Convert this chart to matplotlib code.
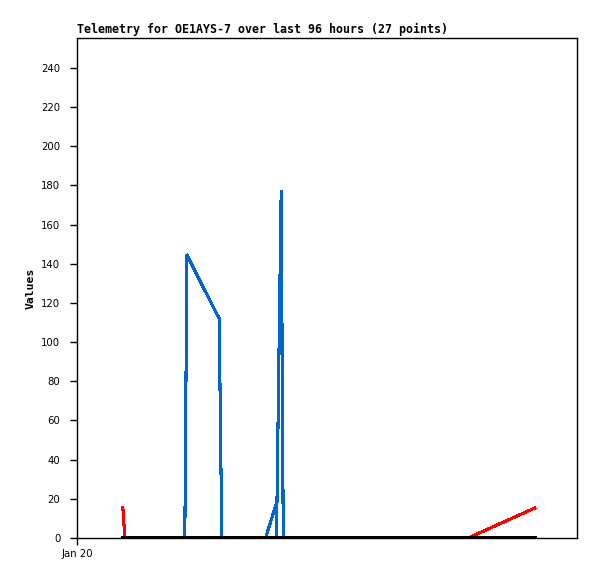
import matplotlib
matplotlib.use("Agg")
import matplotlib.pyplot as plt

# Hours since Jan 20 00:00 (96-hour window)
black_x = [8.8, 87.9]
black_y = [0, 0]

red_x = [8.8, 9.2, 75.1, 87.9]
red_y = [15.5, 0, 0, 15.3]

blue_x = [20.7, 21.1, 27.3, 27.8, 36.2, 38.2, 38.3, 39.2, 39.6]
blue_y = [0, 144.5, 112, 0, 0, 17, 0, 177, 0]

title = "Telemetry for OE1AYS-7 over last 96 hours (27 points)"
ylabel = "Values"
xtick_labels = ["Jan 20"]
xtick_pos = [0]
yticks = list(range(0, 241, 20))

fig = plt.figure(figsize=(5.97, 5.79), dpi=100)
ax = fig.add_axes([77/597, 41/579, 500/597, 500/579])

ax.plot(blue_x, blue_y, color="#0066cc", lw=1.5, antialiased=False, zorder=2)
ax.plot(red_x, red_y, color="#ff0000", lw=1.5, antialiased=False, zorder=3)
ax.plot(black_x, black_y, color="#000000", lw=1.6, antialiased=False, zorder=4)

ax.set_xlim(0, 96)
ax.set_ylim(0, 255.3)
ax.set_yticks(yticks)
ax.set_yticklabels([str(v) for v in yticks], fontsize=7.3, family="DejaVu Sans")
ax.set_xticks(xtick_pos)
ax.set_xticklabels(xtick_labels, fontsize=7.3, family="DejaVu Sans")
ax.tick_params(axis="both", direction="out", length=5, width=1, pad=3)
ax.tick_params(axis="y", pad=7)
for s in ax.spines.values():
    s.set_linewidth(1)
    s.set_color("black")

fig.text(77/597, 1 - 33/579, title, fontsize=8.35, family="DejaVu Sans Mono",
         fontweight="bold", ha="left", va="baseline")
ax.set_ylabel(ylabel, fontsize=8.2, family="DejaVu Sans Mono", fontweight="bold", labelpad=4)

fig.savefig("out.png", dpi=100, facecolor="white")
